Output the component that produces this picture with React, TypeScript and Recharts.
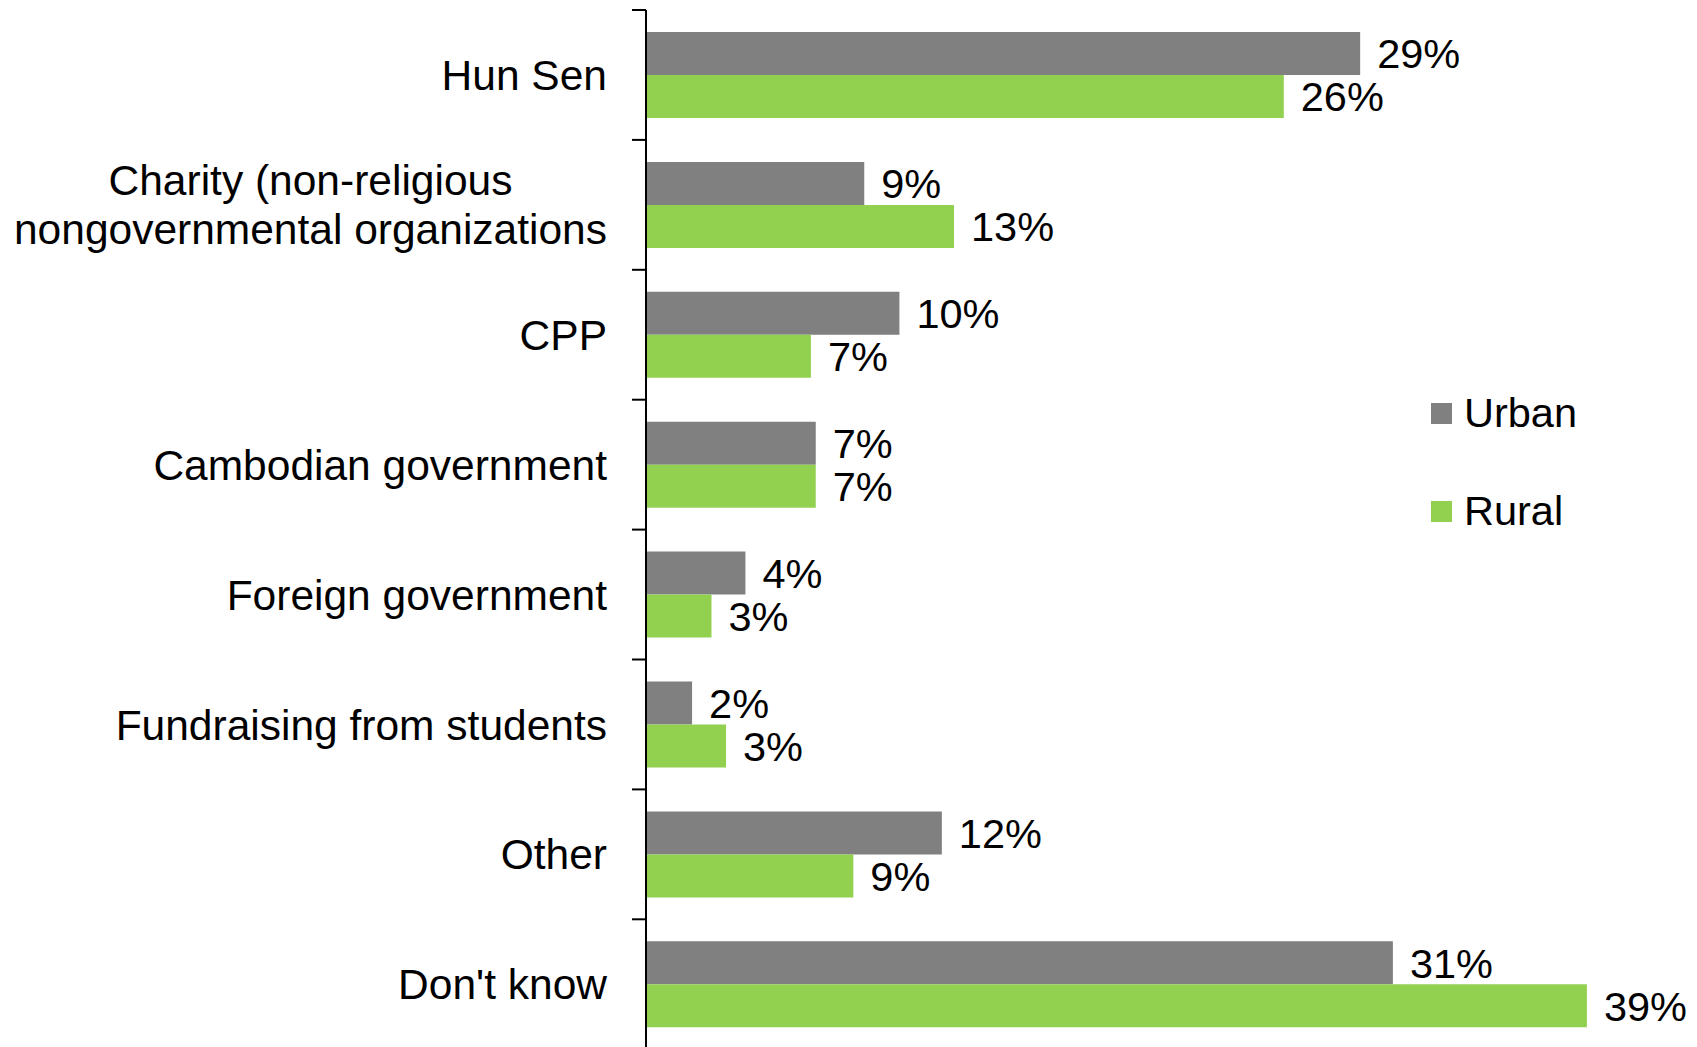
import React from 'react';
import { BarChart, Bar, XAxis, YAxis, Legend, LabelList } from 'recharts';

const categories = [
  'Hun Sen',
  'Charity (non-religious\nnongovernmental organizations',
  'CPP',
  'Cambodian government',
  'Foreign government',
  'Fundraising from students',
  'Other',
  "Don't know",
];
const urban = [29.45, 9.0, 10.45, 7.0, 4.1, 1.9, 12.2, 30.8];
const rural = [26.3, 12.7, 6.8, 7.0, 2.7, 3.3, 8.55, 38.8];
const seriesNames = ['Urban', 'Rural'];
const seriesColors = ['#808080', '#92D050'];

const data = categories.map((name, i) => ({ name, urban: urban[i], rural: rural[i] }));

const WIDTH = 1697;
const HEIGHT = 1060;
const MARGIN = { top: 10, right: 81, bottom: 10.8, left: 0 };
const AXIS_W = 646;
const PLOT_H = HEIGHT - MARGIN.top - MARGIN.bottom;
const BAND = PLOT_H / categories.length;
const TICK_SIZE = 14;
const TICK_MARGIN = 25;
const FONT = '"Liberation Sans", Arial, sans-serif';
const CAT_SIZE = 42.5;
const FONT_SIZE = 41.5;
const LINE_H = 49;

let ctx: CanvasRenderingContext2D | null = null;
const measure = (s: string) => {
  if (!ctx) ctx = document.createElement('canvas').getContext('2d');
  if (!ctx) return s.length * CAT_SIZE * 0.5;
  ctx.font = `${CAT_SIZE}px ${FONT}`;
  return ctx.measureText(s).width;
};

const pct = (v: any) => `${Math.round(Number(v))}%`;

// category label + Excel style tick at the top edge of each band
const CategoryTick = ({ x, y, payload }: any) => {
  const lines = String(payload.value).split('\n');
  const axisX = x + TICK_MARGIN + TICK_SIZE;
  const top = y - BAND / 2;
  const multi = lines.length > 1;
  const widest = Math.max(...lines.map(measure));
  const tx = multi ? x - widest / 2 : x;
  const y0 = y - ((lines.length - 1) * LINE_H) / 2;
  return (
    <g>
      <line x1={axisX - TICK_SIZE} x2={axisX} y1={top} y2={top} stroke="#000" strokeWidth={2} />
      <text x={tx} y={y0} textAnchor={multi ? 'middle' : 'end'} fontSize={CAT_SIZE} fill="#000" fontFamily={FONT}>
        {lines.map((l, i) => (
          <tspan key={i} x={tx} dy={i === 0 ? '0.355em' : LINE_H}>{l}</tspan>
        ))}
      </text>
    </g>
  );
};

const LegendContent = () => (
  <div>
    {seriesNames.map((n, i) => (
      <div key={n} style={{ display: 'flex', alignItems: 'center', height: 98, fontSize: FONT_SIZE, fontFamily: FONT, color: '#000' }}>
        <span style={{ display: 'inline-block', width: 21, height: 21, background: seriesColors[i], marginRight: 12 }} />
        {n}
      </div>
    ))}
  </div>
);

const App: React.FC = () => (
  <div style={{ position: 'absolute', left: 0, top: 0, width: WIDTH, height: 1047, overflow: 'hidden', background: '#fff', fontFamily: FONT }}>
    <BarChart width={WIDTH} height={HEIGHT} data={data} layout="vertical" margin={MARGIN} barGap={0}>
      <XAxis type="number" domain={[0, 40]} hide />
      <YAxis
        type="category"
        dataKey="name"
        width={AXIS_W}
        interval={0}
        tick={<CategoryTick />}
        tickLine={false}
        tickSize={TICK_SIZE}
        tickMargin={TICK_MARGIN}
        axisLine={{ stroke: '#000', strokeWidth: 2 }}
      />
      <Legend
        layout="vertical"
        align="center"
        verticalAlign="middle"
        content={<LegendContent />}
        wrapperStyle={{ left: 1431, top: 364, width: 'auto' }}
      />
      <Bar dataKey="urban" name={seriesNames[0]} fill={seriesColors[0]} barSize={43} isAnimationActive={false}>
        <LabelList dataKey="urban" position="right" offset={17} formatter={pct} fill="#000" fontSize={FONT_SIZE} />
      </Bar>
      <Bar dataKey="rural" name={seriesNames[1]} fill={seriesColors[1]} barSize={43} isAnimationActive={false}>
        <LabelList dataKey="rural" position="right" offset={17} formatter={pct} fill="#000" fontSize={FONT_SIZE} />
      </Bar>
    </BarChart>
  </div>
);

export default App;
